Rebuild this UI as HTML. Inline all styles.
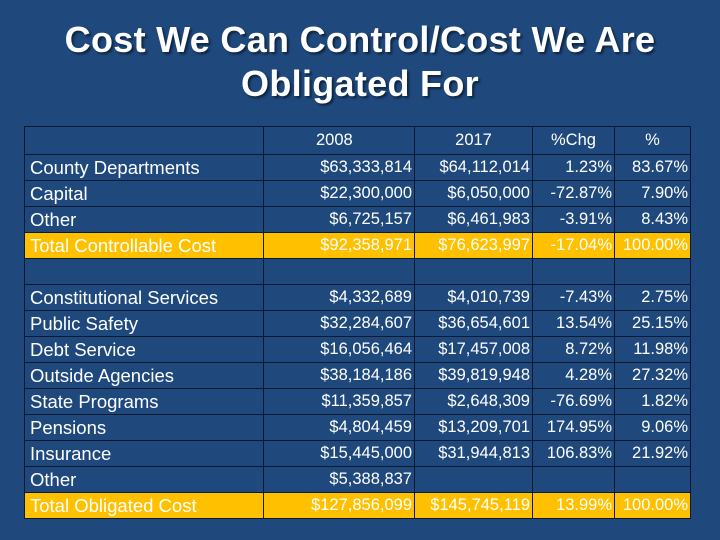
<!DOCTYPE html>
<html><head><meta charset="utf-8"><style>
html,body{margin:0;padding:0}
body{width:720px;height:540px;background:#1F497D;position:relative;overflow:hidden;font-family:"Liberation Sans",sans-serif}
#title{position:absolute;left:0;top:18px;width:720px;text-align:center;color:#fff;font-weight:bold;font-size:36px;line-height:44px;text-shadow:2px 2px 2px #0d2440;letter-spacing:0.3px}
table{position:absolute;left:24px;top:126px;border-collapse:collapse;table-layout:fixed}
td{border:1px solid #0a1a33;height:25px;padding:0 2px;color:#fff;font-size:16.5px;white-space:nowrap;text-align:right;overflow:hidden}
td.l{text-align:left;font-size:18.5px;padding-left:5px}
th{border:1px solid #0a1a33;height:25px;color:#fff;font-weight:normal;font-size:16.5px;text-align:center}
tr.y td{background:#FFC000}
</style></head><body>
<div id="title">Cost We Can Control/Cost We Are<br>Obligated For</div>
<table>
<colgroup><col style="width:239px"><col style="width:151px"><col style="width:118px"><col style="width:82px"><col style="width:76px"></colgroup>
<tr><th></th><th style="text-align:left;padding-left:52px">2008</th><th>2017</th><th>%Chg</th><th>%</th></tr>
<tr><td class="l">County Departments</td><td>$63,333,814</td><td>$64,112,014</td><td>1.23%</td><td>83.67%</td></tr>
<tr><td class="l">Capital</td><td>$22,300,000</td><td>$6,050,000</td><td>-72.87%</td><td>7.90%</td></tr>
<tr><td class="l">Other</td><td>$6,725,157</td><td>$6,461,983</td><td>-3.91%</td><td>8.43%</td></tr>
<tr class="y"><td class="l">Total Controllable Cost</td><td>$92,358,971</td><td>$76,623,997</td><td>-17.04%</td><td>100.00%</td></tr>
<tr><td></td><td></td><td></td><td></td><td></td></tr>
<tr><td class="l">Constitutional Services</td><td>$4,332,689</td><td>$4,010,739</td><td>-7.43%</td><td>2.75%</td></tr>
<tr><td class="l">Public Safety</td><td>$32,284,607</td><td>$36,654,601</td><td>13.54%</td><td>25.15%</td></tr>
<tr><td class="l">Debt Service</td><td>$16,056,464</td><td>$17,457,008</td><td>8.72%</td><td>11.98%</td></tr>
<tr><td class="l">Outside Agencies</td><td>$38,184,186</td><td>$39,819,948</td><td>4.28%</td><td>27.32%</td></tr>
<tr><td class="l">State Programs</td><td>$11,359,857</td><td>$2,648,309</td><td>-76.69%</td><td>1.82%</td></tr>
<tr><td class="l">Pensions</td><td>$4,804,459</td><td>$13,209,701</td><td>174.95%</td><td>9.06%</td></tr>
<tr><td class="l">Insurance</td><td>$15,445,000</td><td>$31,944,813</td><td>106.83%</td><td>21.92%</td></tr>
<tr><td class="l">Other</td><td>$5,388,837</td><td></td><td></td><td></td></tr>
<tr class="y"><td class="l">Total Obligated Cost</td><td>$127,856,099</td><td>$145,745,119</td><td>13.99%</td><td>100.00%</td></tr>
</table>
</body></html>
